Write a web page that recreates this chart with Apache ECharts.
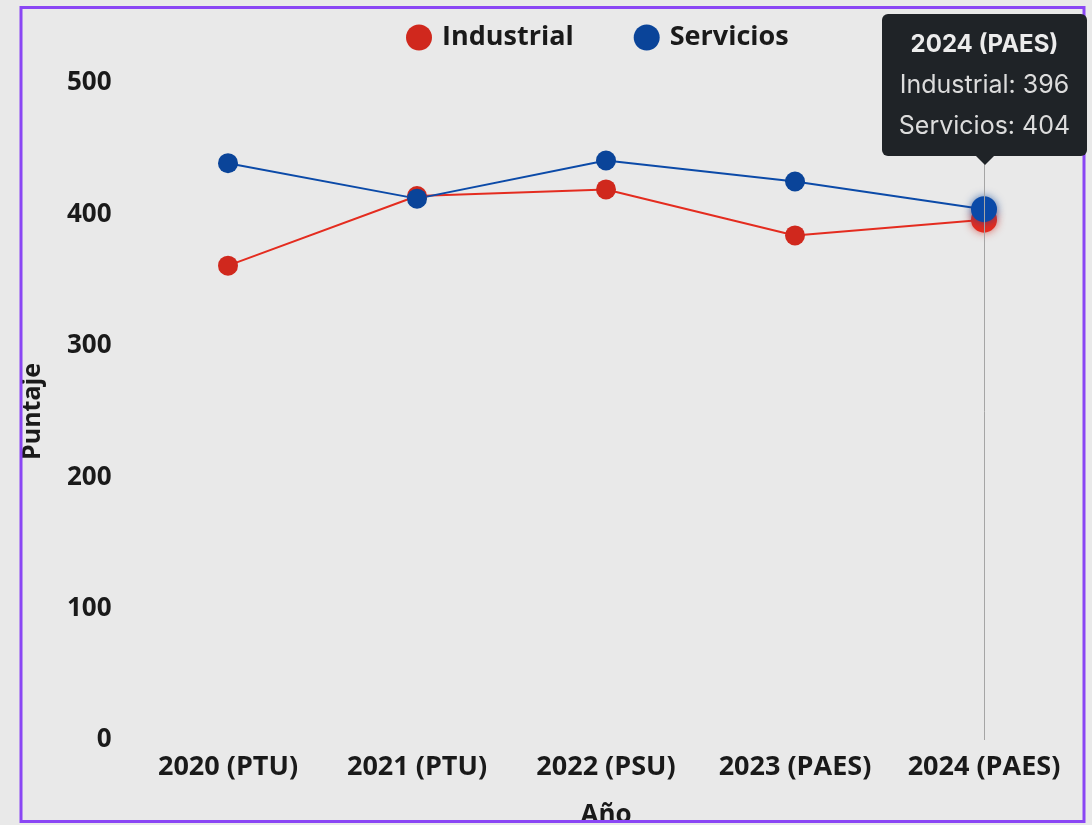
<!DOCTYPE html>
<html>
<head>
<meta charset="utf-8">
<script src="https://cdn.jsdelivr.net/npm/echarts@6/dist/echarts.min.js"></script>
<style>
html,body{margin:0;padding:0;background:#ebebeb;}
#chart{width:1092px;height:825px;}
</style>
</head>
<body>
<div id="chart"></div>
<script>
const categories = ['2020 (PTU)', '2021 (PTU)', '2022 (PSU)', '2023 (PAES)', '2024 (PAES)'];
const industrial = [361, 414, 419, 384, 396];
const servicios = [439, 412, 441, 425, 404];
const seriesNames = ['Industrial', 'Servicios'];
const yTicks = [0, 100, 200, 300, 400, 500];

const RED = '#d0281d';
const BLUE = '#0a4499';
const FONT = '"Open Sans", "Noto Sans", sans-serif';

const chart = echarts.init(document.getElementById('chart'), null, {renderer: 'canvas'});
chart.setOption({
  animation: false,
  backgroundColor: '#e9e9e9',
  graphic: [{
    type: 'rect', z: 100, silent: true,
    shape: {x: 21, y: 7.5, width: 1063, height: 814},
    style: {fill: 'none', stroke: '#8a46f4', lineWidth: 3}
  }],
  legend: {
    top: 19, left: 401,
    icon: 'circle', itemWidth: 26, itemHeight: 26, itemGap: 60,
    textStyle: {fontFamily: FONT, fontWeight: 'bold', fontSize: 27, color: '#1a1a1a', padding: [0, 0, 0, 5]},
    data: seriesNames
  },
  tooltip: {
    trigger: 'axis',
    alwaysShowContent: true,
    showDelay: 0,
    transitionDuration: 0,
    backgroundColor: '#1f2327',
    borderColor: '#1f2327',
    borderWidth: 0,
    padding: [10, 4],
    extraCssText: 'border-radius:6px;width:197px;text-align:center;box-shadow:none;',
    textStyle: {color: '#dcdcdc', fontFamily: 'Inter, "Noto Sans", sans-serif', fontSize: 25},
    position: function () { return [882, 14]; },
    axisPointer: {type: 'line', lineStyle: {color: '#a5a5a5', width: 1, type: 'solid'}},
    formatter: function (params) {
      let s = '<div style="font-weight:bold;line-height:40px;font-size:24px;color:#ececec;">' + params[0].axisValue + '</div>';
      params.forEach(p => {
        s += '<div style="line-height:41px;">' + p.seriesName + ': ' + p.value + '</div>';
      });
      s += '<div style="position:absolute;left:50%;bottom:-9px;margin-left:-9px;width:0;height:0;border-left:9px solid transparent;border-right:9px solid transparent;border-top:9px solid #1f2327;"></div>';
      return s;
    }
  },
  grid: {left: 133.5, right: 13.5, top: 83, bottom: 85, containLabel: false, outerBoundsMode: 'none'},
  xAxis: {
    type: 'category',
    data: categories,
    boundaryGap: true,
    name: 'Año',
    nameLocation: 'middle',
    nameGap: 63,
    nameTextStyle: {fontFamily: FONT, fontWeight: 'bold', fontSize: 26, color: '#1a1a1a'},
    axisLine: {show: false},
    axisTick: {show: false},
    axisLabel: {fontFamily: FONT, fontWeight: 'bold', fontSize: 27, color: '#1a1a1a', margin: 14, interval: 0},
    splitLine: {show: false}
  },
  yAxis: {
    type: 'value',
    min: yTicks[0],
    max: yTicks[yTicks.length - 1],
    interval: 100,
    name: 'Puntaje',
    nameLocation: 'middle',
    nameGap: 88,
    nameTextStyle: {fontFamily: FONT, fontWeight: 'bold', fontSize: 25, color: '#1a1a1a'},
    axisLine: {show: false},
    axisTick: {show: false},
    splitLine: {show: false},
    axisLabel: {fontFamily: FONT, fontWeight: 'bold', fontSize: 26, color: '#1a1a1a', margin: 22}
  },
  series: [
    {
      name: seriesNames[0], type: 'line', data: industrial,
      symbol: 'circle', symbolSize: 20,
      lineStyle: {color: RED, width: 2},
      itemStyle: {color: RED},
      emphasis: {scale: 1.3, itemStyle: {shadowBlur: 8, shadowColor: 'rgba(208,40,29,0.7)'}}
    },
    {
      name: seriesNames[1], type: 'line', data: servicios,
      symbol: 'circle', symbolSize: 20,
      lineStyle: {color: BLUE, width: 2},
      itemStyle: {color: BLUE},
      emphasis: {scale: 1.3, itemStyle: {shadowBlur: 8, shadowColor: 'rgba(10,68,153,0.7)'}}
    }
  ]
});
setTimeout(function () {
  chart.dispatchAction({type: 'showTip', seriesIndex: 0, dataIndex: 4});
}, 50);
</script>
</body>
</html>
